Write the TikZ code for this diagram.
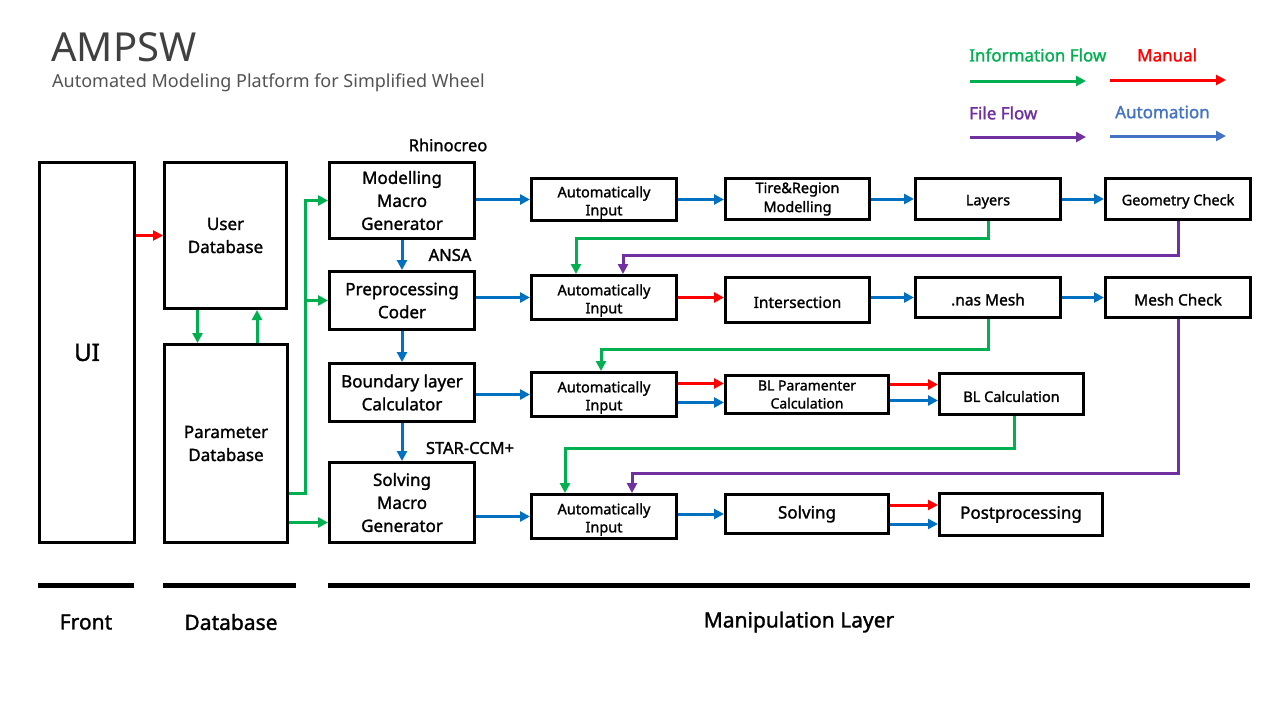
\documentclass[tikz,border=0pt]{standalone}
\usepackage{fontspec}
\setmainfont{Noto Sans}[RawFeature={embolden=1.4}]
\newfontfamily\titlefont{Noto Sans}
\usetikzlibrary{arrows.meta,calc}
\definecolor{infog}{HTML}{00B050}
\definecolor{manr}{HTML}{FF0000}
\definecolor{filep}{HTML}{7030A0}
\definecolor{autob}{HTML}{0070C0}
\definecolor{legb}{HTML}{4472C4}
\definecolor{titleg}{HTML}{404040}
\newcommand\autoin{\raisebox{-3pt}[\height][\depth]{\begin{tabular}{@{}c@{}}Automatically\\[-1pt]Input\end{tabular}}}
\tikzset{
  box/.style={draw=black, line width=3pt, fill=white, align=center, inner sep=0pt, font=\fontsize{17}{23}\selectfont},
  sbox/.style={box, font=\fontsize{14.5}{19}\selectfont, execute at begin node={\rule{0pt}{16pt}}},
  flow/.style={line width=3pt, -{Triangle[length=10pt,width=10pt]}},
  info/.style={flow, draw=infog},
  manual/.style={flow, draw=manr},
  fileflow/.style={flow, draw=filep},
  autom/.style={flow, draw=autob},
  lab/.style={inner sep=0pt, font=\fontsize{16.5}{20}\selectfont},
  layerlab/.style={inner sep=0pt, font=\fontsize{21}{24}\selectfont},
  leg/.style={inner sep=0pt, anchor=west, font=\fontsize{17}{20}\selectfont}
}
\begin{document}
\begin{tikzpicture}[x=1pt,y=-1pt]
\useasboundingbox[fill=white] (0,0) rectangle (1280,720);
% title
\node[anchor=west, inner sep=0pt, text=titleg, font=\titlefont\fontsize{40}{44}\selectfont] (title) at (51,47) {AMPSW};
\node[anchor=west, inner sep=0pt, text=titleg!90, font=\titlefont\fontsize{18}{20}\selectfont] (subtitle) at (52,83) {Automated Modeling Platform for Simplified Wheel};
% legend
\node[leg, text=infog] (lgi) at (969,55) {Information Flow};
\node[leg, text=manr] (lgm) at (1137,55) {Manual};
\node[leg, text=filep] (lgf) at (969,113) {File Flow};
\node[leg, text=legb] (lga) at (1115,112) {Automation};
\coordinate (li1) at (970,81); \coordinate (li2) at (1086,81);
\coordinate (lm1) at (1110,80); \coordinate (lm2) at (1226,80);
\coordinate (lf1) at (970,137); \coordinate (lf2) at (1086,137);
\coordinate (la1) at (1110,136); \coordinate (la2) at (1226,136);
\draw[info] (li1) -- (li2);
\draw[manual] (lm1) -- (lm2);
\draw[fileflow] (lf1) -- (lf2);
\draw[flow, draw=legb] (la1) -- (la2);
% left boxes
\node[box, minimum width=95, minimum height=380, font=\fontsize{24}{28}\selectfont] (ui) at (87,352.5) {UI};
\node[box, minimum width=122, minimum height=146] (udb) at (225.5,235.5) {User\\Database};
\node[box, minimum width=123, minimum height=198] (pdb) at (226,443.5) {Parameter\\Database};
% column of generators
\node[box, minimum width=145, minimum height=76] (mmg) at (402,200.5) {Modelling\\Macro\\Generator};
\node[box, minimum width=145, minimum height=58] (pc) at (402,300.5) {Preprocessing\\Coder};
\node[box, minimum width=145, minimum height=58] (blc) at (402,392.5) {Boundary layer\\Calculator};
\node[box, minimum width=145, minimum height=80] (smg) at (402,502.5) {Solving\\Macro\\Generator};
% automatically input
\node[sbox, minimum width=145, minimum height=42] (ai1) at (604,199.5) {\autoin};
\node[sbox, minimum width=145, minimum height=44] (ai2) at (604,297.5) {\autoin};
\node[sbox, minimum width=145, minimum height=44] (ai3) at (604,394.5) {\autoin};
\node[sbox, minimum width=145, minimum height=44] (ai4) at (604,516.5) {\autoin};
% row 1
\node[sbox, minimum width=144, minimum height=41] (tire) at (797.5,199) {Tire\&Region\\Modelling};
\node[sbox, minimum width=145, minimum height=41] (lay) at (988,199) {Layers};
\node[sbox, minimum width=145, minimum height=41] (geo) at (1178,199) {Geometry Check};
% row 2
\node[sbox, minimum width=144, minimum height=45, font=\fontsize{15.5}{19}\selectfont] (inter) at (797.5,300) {Intersection};
\node[sbox, minimum width=145, minimum height=40, font=\fontsize{15.5}{19}\selectfont] (nas) at (988,297.5) {.nas Mesh};
\node[sbox, minimum width=145, minimum height=40, font=\fontsize{15.5}{19}\selectfont] (mc) at (1178,297.5) {Mesh Check};
% row 3
\node[sbox, minimum width=163, minimum height=38, font=\fontsize{14}{18}\selectfont] (blp) at (807,394.5) {BL Paramenter\\Calculation};
\node[sbox, minimum width=144, minimum height=41] (blcalc) at (1011.5,394) {BL Calculation};
% row 4
\node[box, minimum width=163, minimum height=39] (solv) at (807,514) {Solving};
\node[box, minimum width=163, minimum height=42] (post) at (1021,514.5) {Postprocessing};
% labels
\node[lab] (rhino) at (448,145) {Rhinocreo};
\node[lab] (ansa) at (450,255) {ANSA};
\node[lab] (star) at (470,448) {STAR-CCM+};
% left connectors
\draw[manual] (ui.east |- udb.west) -- (udb.west);
\draw[info] ([xshift=-28pt]udb.south) -- ([xshift=-28pt]udb.south |- pdb.north);
\draw[info] ([xshift=31pt]pdb.north) -- ([xshift=31pt]pdb.north |- udb.south);
\coordinate (bus) at (305,0);
\draw[info] ([yshift=-50pt]pdb.east) -| (bus |- mmg.west) -- (mmg.west);
\draw[info] (bus |- pc.west) -- (pc.west);
\draw[info] ([yshift=-79pt]pdb.east) -- ([yshift=-79pt]pdb.east -| smg.west);
% vertical blue
\draw[autom] (mmg.south) -- (pc.north);
\draw[autom] (pc.south) -- (blc.north);
\draw[autom] (blc.south) -- (smg.north);
% row 1
\draw[autom] (mmg.east |- ai1.west) -- (ai1.west);
\draw[autom] (ai1.east) -- (ai1.east -| tire.west);
\draw[autom] (tire.east) -- (tire.east -| lay.west);
\draw[autom] (lay.east) -- (lay.east -| geo.west);
% row 2
\draw[autom] (pc.east |- ai2.west) -- (ai2.west);
\draw[manual] (ai2.east) -- (ai2.east -| inter.west);
\draw[autom] (inter.east |- nas.west) -- (nas.west);
\draw[autom] (nas.east) -- (nas.east -| mc.west);
% row 3
\draw[autom] (blc.east |- ai3.west) -- (ai3.west);
\draw[manual] ([yshift=11pt]ai3.east) -- ([yshift=11pt]ai3.east -| blp.west);
\draw[autom] ([yshift=-8pt]ai3.east) -- ([yshift=-8pt]ai3.east -| blp.west);
\draw[manual] ([yshift=10pt]blp.east) -- ([yshift=10pt]blp.east -| blcalc.west);
\draw[autom] ([yshift=-6pt]blp.east) -- ([yshift=-6pt]blp.east -| blcalc.west);
% row 4
\draw[autom] (smg.east |- ai4.west) -- (ai4.west);
\draw[autom] (ai4.east |- solv.west) -- (solv.west);
\draw[manual] ([yshift=9pt]solv.east) -- ([yshift=9pt]solv.east -| post.west);
\draw[autom] ([yshift=-10pt]solv.east) -- ([yshift=-10pt]solv.east -| post.west);
% feedback loops
\draw[info] (lay.south) -- ++(0,17) -| ([xshift=-28pt]ai2.north);
\draw[fileflow] (geo.south) -- ++(0,34) -| ([xshift=19pt]ai2.north);
\draw[info] (nas.south) -- ++(0,30) -| ([xshift=-3pt]ai3.north);
\draw[info] ([xshift=2.5pt]blcalc.south) -- ++(0,32) -| ([xshift=-39pt]ai4.north);
\draw[fileflow] (mc.south) -- ++(0,154) -| ([xshift=28pt]ai4.north);
% layer bars
\coordinate (b1a) at (38,585); \coordinate (b1b) at (134,585);
\coordinate (b2a) at (163,585); \coordinate (b2b) at (296,585);
\coordinate (b3a) at (328,585); \coordinate (b3b) at (1250,585);
\draw[line width=5pt] (b1a) -- (b1b);
\draw[line width=5pt] (b2a) -- (b2b);
\draw[line width=5pt] (b3a) -- (b3b);
\node[layerlab] (front) at (86,622) {Front};
\node[layerlab] (dbl) at (231,622) {Database};
\node[layerlab] (manl) at (799,622) {Manipulation Layer};
\end{tikzpicture}
\end{document}
